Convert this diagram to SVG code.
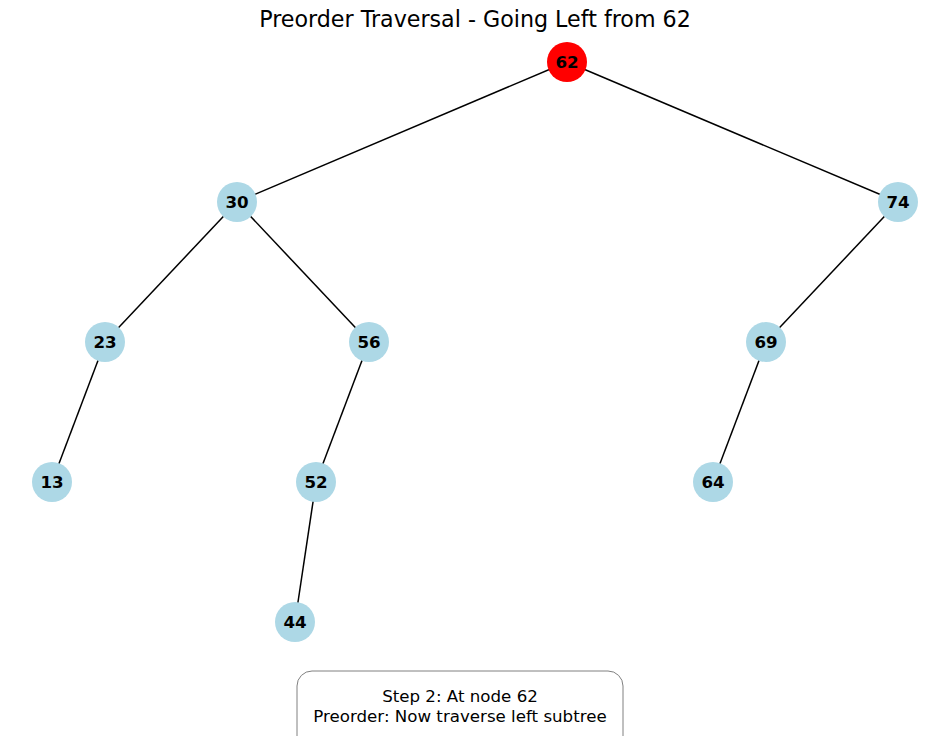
<svg xmlns="http://www.w3.org/2000/svg" width="950" height="736" viewBox="0 0 950 736">
<style>
.edge{stroke:#000;stroke-width:1.5;fill:none}
.node{fill:#add8e6}
.cur{fill:#ff0000}
.lbl{font-family:"DejaVu Sans",sans-serif;font-size:16.67px;font-weight:bold;text-anchor:middle;dominant-baseline:central;fill:#000}
.title{font-family:"DejaVu Sans",sans-serif;font-size:22.2px;text-anchor:middle;fill:#000}
.info{font-family:"DejaVu Sans",sans-serif;font-size:16.67px;text-anchor:middle;fill:#000}
</style>
<rect width="950" height="736" fill="#fff"/>
<text class="title" x="475" y="27">Preorder Traversal - Going Left from 62</text>
<g id="connectors">
<line class="edge" x1="567" y1="62" x2="237" y2="202"/>
<line class="edge" x1="567" y1="62" x2="898" y2="202"/>
<line class="edge" x1="237" y1="202" x2="105" y2="342"/>
<line class="edge" x1="237" y1="202" x2="369" y2="342"/>
<line class="edge" x1="898" y1="202" x2="766" y2="342"/>
<line class="edge" x1="105" y1="342" x2="52" y2="482"/>
<line class="edge" x1="369" y1="342" x2="316" y2="482"/>
<line class="edge" x1="766" y1="342" x2="713" y2="482"/>
<line class="edge" x1="316" y1="482" x2="295" y2="622"/>
</g>
<g id="n62"><circle class="cur" cx="567" cy="62" r="20"/><text class="lbl" x="567" y="62">62</text></g>
<g id="n30"><circle class="node" cx="237" cy="202" r="20"/><text class="lbl" x="237" y="202">30</text></g>
<g id="n74"><circle class="node" cx="898" cy="202" r="20"/><text class="lbl" x="898" y="202">74</text></g>
<g id="n23"><circle class="node" cx="105" cy="342" r="20"/><text class="lbl" x="105" y="342">23</text></g>
<g id="n56"><circle class="node" cx="369" cy="342" r="20"/><text class="lbl" x="369" y="342">56</text></g>
<g id="n69"><circle class="node" cx="766" cy="342" r="20"/><text class="lbl" x="766" y="342">69</text></g>
<g id="n13"><circle class="node" cx="52" cy="482" r="20"/><text class="lbl" x="52" y="482">13</text></g>
<g id="n52"><circle class="node" cx="316" cy="482" r="20"/><text class="lbl" x="316" y="482">52</text></g>
<g id="n64"><circle class="node" cx="713" cy="482" r="20"/><text class="lbl" x="713" y="482">64</text></g>
<g id="n44"><circle class="node" cx="295" cy="622" r="20"/><text class="lbl" x="295" y="622">44</text></g>
<g id="infobox">
<rect x="297" y="671" width="326" height="80" rx="15" ry="15" fill="#fff" stroke="#808080" stroke-width="1"/>
<text class="info" x="460" y="702">Step 2: At node 62</text>
<text class="info" x="460" y="722">Preorder: Now traverse left subtree</text>
</g>
</svg>
